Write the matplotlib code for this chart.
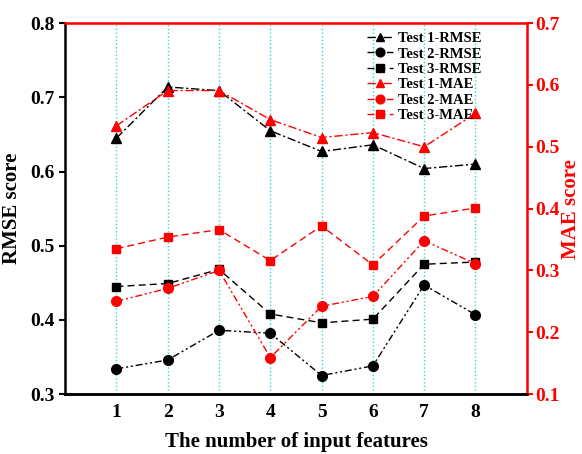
import matplotlib.pyplot as plt

plt.rcParams['font.family'] = ['Liberation Serif', 'DejaVu Serif']
plt.rcParams['font.weight'] = 'bold'

features = [1, 2, 3, 4, 5, 6, 7, 8]

# RMSE (left axis)
rmse_test1 = [0.645, 0.714, 0.709, 0.655, 0.627, 0.636, 0.604, 0.610]
rmse_test2 = [0.334, 0.346, 0.386, 0.382, 0.325, 0.338, 0.447, 0.407]
rmse_test3 = [0.445, 0.449, 0.468, 0.408, 0.396, 0.401, 0.475, 0.478]

# MAE (right axis)
mae_test1 = [0.534, 0.591, 0.591, 0.544, 0.515, 0.523, 0.500, 0.554]
mae_test2 = [0.250, 0.271, 0.300, 0.159, 0.242, 0.258, 0.348, 0.311]
mae_test3 = [0.335, 0.354, 0.366, 0.316, 0.372, 0.309, 0.388, 0.401]

fig = plt.figure(figsize=(5.82, 4.54), dpi=100)
ax = fig.add_axes([0.112, 0.132, 0.793, 0.817])
ax2 = ax.twinx()

dashdot = (0, (6, 2, 1.5, 2))
dashdotdot = (0, (5, 2, 1.5, 2, 1.5, 2))
dashed = (0, (5, 3))

for xv in features:
    ax.axvline(xv, color='#33d6d6', linestyle=':', linewidth=1, zorder=0)

l1, = ax.plot(features, rmse_test1, color='black', linestyle=dashdot, marker='^', markersize=7, lw=1, label='Test 1-RMSE')
l2, = ax.plot(features, rmse_test2, color='black', linestyle=dashdotdot, marker='o', markersize=7, lw=1, label='Test 2-RMSE')
l3, = ax.plot(features, rmse_test3, color='black', linestyle=dashed, marker='s', markersize=6, lw=1, label='Test 3-RMSE')
l4, = ax2.plot(features, mae_test1, color='red', linestyle=dashdot, marker='^', markersize=7, lw=1, label='Test 1-MAE')
l5, = ax2.plot(features, mae_test2, color='red', linestyle=dashdotdot, marker='o', markersize=7, lw=1, label='Test 2-MAE')
l6, = ax2.plot(features, mae_test3, color='red', linestyle=dashed, marker='s', markersize=6, lw=1, label='Test 3-MAE')

ax.set_xlim(0, 9)
ax.set_ylim(0.3, 0.8)
ax2.set_ylim(0.1, 0.7)
ax.set_xticks(features)
ax.set_yticks([0.3, 0.4, 0.5, 0.6, 0.7, 0.8])
ax2.set_yticks([0.1, 0.2, 0.3, 0.4, 0.5, 0.6, 0.7])

ax.tick_params(axis='x', length=0, labelsize=14, pad=7)
ax.tick_params(axis='y', direction='out', length=4, width=1.5, labelsize=14)
ax2.tick_params(axis='y', direction='out', length=4, width=1.5, colors='red', labelsize=14, pad=2)

ax.set_xlabel('The number of input features', fontsize=15, fontweight='bold', labelpad=8)
ax.set_ylabel('RMSE score', fontsize=15, fontweight='bold', labelpad=6)
ax2.set_ylabel('MAE score', fontsize=15, fontweight='bold', color='red', labelpad=1)

for s in ['left', 'bottom']:
    ax.spines[s].set_linewidth(1.8)
ax2.spines['left'].set_visible(False)
ax2.spines['bottom'].set_linewidth(1.8)
ax2.spines['bottom'].set_color('black')
ax2.spines['right'].set_color('red')
ax2.spines['right'].set_linewidth(1.8)
ax2.spines['top'].set_color('red')
ax2.spines['top'].set_linewidth(1.8)
ax.spines['top'].set_visible(False)
ax.spines['right'].set_visible(False)

ax2.legend(handles=[l1, l2, l3, l4, l5, l6], loc='upper left', bbox_to_anchor=(0.635, 1.0),
           frameon=False, handlelength=1.8, handletextpad=0.3, labelspacing=0.15,
           borderaxespad=0.2, markerscale=0.9,
           prop={'weight': 'bold', 'size': 10.5})

plt.savefig('out.png')
